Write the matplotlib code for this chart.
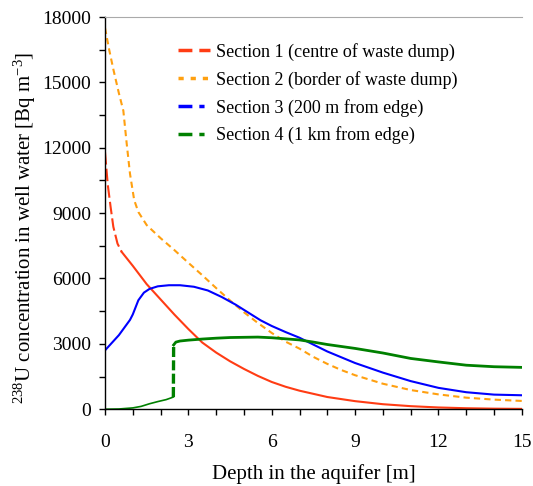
import matplotlib
matplotlib.use("Agg")
import matplotlib.pyplot as plt
from matplotlib.lines import Line2D
from matplotlib.ticker import MultipleLocator

plt.rcParams["font.family"] = ["Liberation Serif", "DejaVu Serif"]
plt.rcParams["mathtext.fontset"] = "custom"
plt.rcParams["mathtext.rm"] = "Liberation Serif"
plt.rcParams["mathtext.it"] = "Liberation Serif:italic"

# Section 1 (centre of waste dump)
sec1_x = [0, 0.1, 0.2, 0.3, 0.45, 0.6, 1.0, 1.5, 2.0, 2.5, 3.0, 3.5, 4.0, 4.5, 5.0, 5.5, 6.0, 6.5, 7.0, 8.0, 9.0, 10.0, 11.0, 12.0, 13.0, 14.0, 15.0]
sec1_y = [11800, 10300, 9300, 8370, 7600, 7220, 6580, 5740, 5040, 4340, 3680, 3060, 2600, 2200, 1850, 1530, 1250, 1030, 850, 560, 370, 230, 140, 80, 45, 25, 15]

# Section 2 (border of waste dump)
sec2_x = [0, 0.15, 0.3, 0.5, 0.66, 0.78, 0.9, 1.05, 1.2, 1.5, 2.0, 2.5, 3.0, 3.5, 4.0, 4.5, 5.0, 5.5, 6.0, 6.5, 7.0, 7.5, 8.0, 8.5, 9.0, 10.0, 11.0, 12.0, 13.0, 14.0, 15.0]
sec2_y = [17500, 16500, 15600, 14500, 13700, 12200, 10800, 9600, 9050, 8450, 7850, 7300, 6720, 6150, 5560, 4990, 4450, 3960, 3500, 3100, 2780, 2400, 2080, 1800, 1560, 1170, 880, 680, 530, 440, 380]

# Section 3 (200 m from edge)
sec3_x = [0, 0.5, 0.9, 1.0, 1.2, 1.4, 1.6, 1.9, 2.3, 2.7, 3.2, 3.7, 4.2, 4.7, 5.2, 5.6, 6.0, 6.5, 7.0, 8.0, 9.0, 10.0, 11.0, 12.0, 13.0, 14.0, 15.0]
sec3_y = [2700, 3400, 4100, 4350, 5000, 5350, 5520, 5640, 5690, 5690, 5620, 5450, 5150, 4800, 4400, 4080, 3820, 3540, 3280, 2650, 2120, 1680, 1290, 980, 780, 670, 640]

# Section 4 (1 km from edge)
sec4_x = [0, 0.5, 1.0, 1.3, 1.6, 1.9, 2.2, 2.4, 2.46, 2.47, 2.55, 2.7, 3.0, 3.5, 4.0, 4.5, 5.0, 5.5, 6.0, 6.5, 7.0, 7.5, 8.0, 8.5, 9.0, 10.0, 11.0, 12.0, 13.0, 14.0, 15.0]
sec4_y = [0, 10, 60, 130, 250, 350, 440, 530, 560, 2950, 3080, 3130, 3170, 3220, 3260, 3290, 3300, 3310, 3280, 3230, 3180, 3080, 2970, 2880, 2790, 2580, 2330, 2170, 2020, 1950, 1920]

labels = [
    "Section 1 (centre of waste dump)",
    "Section 2 (border of waste dump)",
    "Section 3 (200 m from edge)",
    "Section 4 (1 km from edge)",
]
colors = ["#ff3c14", "#ffa010", "#0000ff", "#008000"]

fig = plt.figure(figsize=(5.33, 4.86), dpi=100)
ax = fig.add_axes([0.197, 0.158, 0.782, 0.807])

lw = 1.5
# red: dashed in the steep first part, solid after
ax.plot(sec1_x[:6], sec1_y[:6], color=colors[0], lw=lw, dashes=(6, 2))
ax.plot(sec1_x[5:], sec1_y[5:], color=colors[0], lw=lw)
ax.plot(sec2_x, sec2_y, color=colors[1], lw=lw, dashes=(3, 2))
ax.plot(sec3_x, sec3_y, color=colors[2], lw=lw)
ax.plot(sec4_x[:9], sec4_y[:9], color=colors[3], lw=1.2)
ax.plot(sec4_x[8:10], sec4_y[8:10], color=colors[3], lw=2.4, dashes=(3, 1))
ax.plot(sec4_x[9:], sec4_y[9:], color=colors[3], lw=2.0)

ax.set_xlim(0, 15)
ax.set_ylim(0, 18000)
ax.xaxis.set_major_locator(MultipleLocator(3))
ax.xaxis.set_minor_locator(MultipleLocator(1))
ax.yaxis.set_major_locator(MultipleLocator(3000))
ax.yaxis.set_minor_locator(MultipleLocator(1500))
ax.tick_params(which="both", direction="out", length=4, width=1, labelsize=14)
ax.tick_params(axis="x", pad=14)
ax.tick_params(axis="y", pad=6)

ax.spines["right"].set_visible(False)
ax.spines["top"].set_color("#aaaaaa")
ax.spines["left"].set_linewidth(1)
ax.spines["bottom"].set_linewidth(1)

ax.set_xlabel("Depth in the aquifer [m]", fontsize=15, labelpad=9)
ax.set_ylabel(r"$^{238}$U concentration in well water [Bq m$^{-3}$]", fontsize=15)
ax.yaxis.set_label_coords(-0.16, 0.462)

handles = [
    Line2D([], [], color=colors[0], lw=2.5, dashes=(4, 2)),
    Line2D([], [], color=colors[1], lw=2.5, dashes=(1.5, 2)),
    Line2D([], [], color=colors[2], lw=2.5, dashes=(4, 2, 1.5, 2)),
    Line2D([], [], color=colors[3], lw=2.5, dashes=(4, 2, 1.5, 2)),
]
ax.legend(handles, labels, loc="upper left", bbox_to_anchor=(0.175, 0.934),
          frameon=False, fontsize=13, handlelength=1.8, handletextpad=0.3,
          borderaxespad=0, borderpad=0, labelspacing=0.55)

fig.savefig("out.png", dpi=100)
